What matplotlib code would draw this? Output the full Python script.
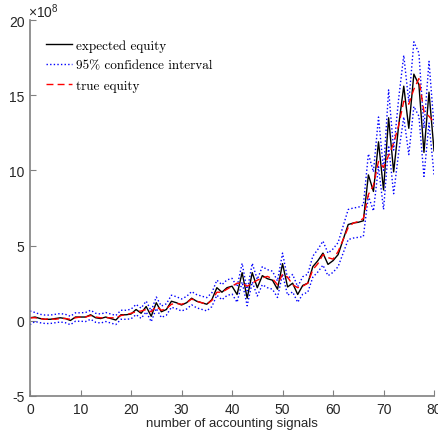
import matplotlib
matplotlib.use("Agg")
import matplotlib.pyplot as plt

# number of accounting signals
signals = list(range(0, 81))

# values, in units of 1e8
expected_equity = [
	0.20, 0.25, 0.15, 0.10, 0.10, 0.15, 0.20, 0.15, 0.02, 0.25,
	0.25, 0.25, 0.40, 0.20, 0.15, 0.25, 0.15, 0.05, 0.40, 0.40,
	0.45, 0.75, 0.50, 0.95, 0.30, 1.20, 0.60, 0.75, 1.30, 1.20,
	1.05, 1.20, 1.50, 1.30, 1.20, 1.10, 1.40, 2.20, 1.90, 2.20,
	2.30, 1.75, 3.20, 1.50, 3.20, 2.20, 3.00, 2.80, 2.70, 2.10,
	3.80, 2.25, 2.50, 1.75, 2.35, 2.50, 3.60, 4.00, 4.50, 3.75,
	4.00, 4.40, 5.40, 6.40, 6.50, 6.55, 6.65, 9.70, 8.60, 11.90,
	8.70, 13.50, 9.90, 13.00, 15.60, 12.80, 16.40, 15.70, 11.20, 15.20,
	11.30,
]
ci_upper = [
	0.65, 0.55, 0.43, 0.38, 0.38, 0.43, 0.48, 0.43, 0.30, 0.53,
	0.53, 0.55, 0.70, 0.50, 0.45, 0.55, 0.45, 0.35, 0.70, 0.70,
	0.77, 1.09, 0.84, 1.31, 0.66, 1.58, 0.98, 1.13, 1.70, 1.60,
	1.45, 1.62, 1.94, 1.74, 1.64, 1.54, 1.86, 2.70, 2.40, 2.72,
	2.82, 2.27, 3.82, 2.00, 3.82, 2.75, 3.60, 3.40, 3.30, 2.65,
	4.50, 2.80, 3.08, 2.27, 2.93, 3.10, 4.30, 4.75, 5.30, 4.50,
	4.78, 5.20, 6.30, 7.40, 7.50, 7.55, 7.70, 11.10, 9.90, 13.55,
	10.00, 15.35, 11.35, 14.80, 17.65, 14.55, 18.55, 17.80, 12.80, 17.25,
	12.90,
]
ci_lower = [
	-0.25, -0.05, -0.13, -0.18, -0.18, -0.13, -0.08, -0.13, -0.26, -0.03,
	-0.03, -0.05, 0.10, -0.10, -0.15, -0.05, -0.15, -0.25, 0.10, 0.10,
	0.13, 0.41, 0.16, 0.59, -0.06, 0.82, 0.22, 0.37, 0.90, 0.80,
	0.65, 0.78, 1.06, 0.86, 0.76, 0.66, 0.94, 1.70, 1.40, 1.68,
	1.78, 1.23, 2.58, 1.00, 2.58, 1.65, 2.40, 2.20, 2.10, 1.55,
	3.10, 1.70, 1.92, 1.23, 1.77, 1.90, 2.90, 3.25, 3.70, 3.00,
	3.22, 3.60, 4.50, 5.40, 5.50, 5.55, 5.60, 8.30, 7.30, 10.25,
	7.40, 11.65, 8.45, 11.20, 13.55, 11.05, 14.25, 13.60, 9.60, 13.15,
	9.70,
]
true_equity = [
	0.20, 0.20, 0.15, 0.10, 0.15, 0.10, 0.15, 0.15, 0.10, 0.20,
	0.25, 0.25, 0.35, 0.25, 0.20, 0.20, 0.20, 0.20, 0.35, 0.40,
	0.50, 0.60, 0.65, 0.75, 0.60, 0.95, 0.70, 0.80, 1.10, 1.15,
	1.10, 1.20, 1.45, 1.30, 1.20, 1.10, 1.35, 1.90, 1.90, 2.10,
	2.30, 2.50, 2.50, 2.30, 2.50, 2.70, 2.85, 2.95, 2.80, 2.40,
	3.10, 2.90, 2.40, 2.20, 2.30, 2.50, 3.40, 3.80, 4.40, 4.20,
	4.10, 4.60, 5.40, 6.20, 6.50, 6.60, 6.80, 8.40, 9.00, 10.60,
	10.20, 11.00, 11.80, 13.00, 14.60, 14.40, 15.40, 16.10, 13.90, 13.60,
	13.20,
]

plt.rcParams['font.family'] = ['Liberation Sans', 'DejaVu Sans']
plt.rcParams['font.size'] = 9.5
plt.rcParams['axes.unicode_minus'] = False
plt.rcParams['mathtext.fontset'] = 'custom'
plt.rcParams['mathtext.rm'] = 'Liberation Sans'
plt.rcParams['mathtext.it'] = 'Liberation Sans:italic'

fig = plt.figure(figsize=(4.38, 4.35), dpi=100)
ax = fig.add_axes([0.0685, 0.0874, 0.9225, 0.8643])

ax.plot(signals, expected_equity, color='black', lw=1.0,
	label='expected equity')
ax.plot(signals, ci_upper, color='blue', lw=1.0, ls=(0, (1, 1.6)),
	label='95% confidence interval')
ax.plot(signals, ci_lower, color='blue', lw=1.0, ls=(0, (1, 1.6)))
ax.plot(signals, true_equity, color='red', lw=1.0,
	ls=(0, (5, 3)), label='true equity')

ax.set_xlim(0, 80)
ax.set_ylim(-5, 20)
ax.set_xticks(range(0, 81, 10))
ax.set_yticks(range(-5, 21, 5))

for side in ['top', 'right']:
	ax.spines[side].set_visible(False)
for side in ['left', 'bottom']:
	ax.spines[side].set_color('#808080')
	ax.spines[side].set_linewidth(1.2)

ax.tick_params(direction='in', length=4, width=0.8, color='#808080',
	labelsize=10, labelcolor='#262626', pad=4)

# exponent label, MATLAB style
ax.text(-0.006, 1.008, r'$\times10^{8}$', transform=ax.transAxes,
	ha='left', va='baseline', fontsize=10, color='#262626')

ax.set_xlabel('number of accounting signals', fontsize=9.5,
	color='#262626', labelpad=1)

ax.legend(loc='upper left', frameon=False, prop={'family': 'cmr10', 'size': 9.5},
	handlelength=2.0, handletextpad=0.3, labelspacing=0.6,
	bbox_to_anchor=(0.017, 0.974), borderaxespad=0.3)

fig.savefig('out.png', dpi=100)
